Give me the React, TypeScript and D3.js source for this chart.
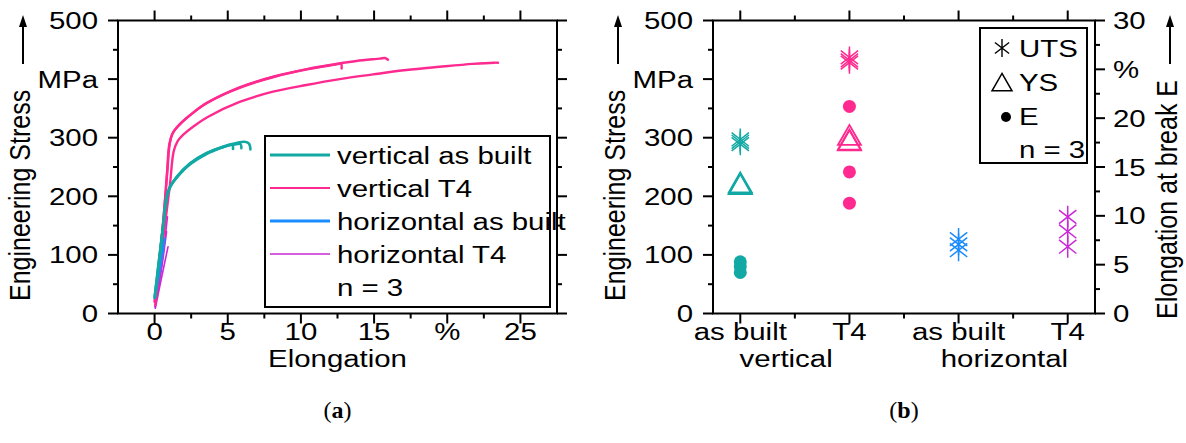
import React from "react";
import * as d3 from "d3";

// ---------- (a) tensile curves: [elongation in %, engineering stress in MPa] ----------
const verticalAsBuiltCurves: [number, number][][] = [
  [[0, 28], [0.3, 90], [0.57, 148], [0.8, 197], [1.0, 214], [1.5, 233], [2.4, 256], [3.5, 273], [4.7, 285], [5.6, 291], [6.15, 293], [6.45, 290], [6.55, 280]],
  [[0.02, 30], [0.32, 95], [0.6, 152], [0.85, 200], [1.05, 215], [1.6, 235], [2.5, 257], [3.6, 274], [4.8, 285], [5.6, 289], [5.88, 289], [5.93, 282]],
  [[0.04, 27], [0.33, 92], [0.6, 150], [0.83, 198], [1.1, 218], [1.55, 233], [2.45, 255], [3.55, 272], [4.6, 283], [5.2, 288], [5.33, 288], [5.36, 281]],
];
const verticalT4Curves: [number, number][][] = [
  [[0.0, 20], [0.3, 85], [0.6, 160], [0.85, 240], [1.0, 288], [1.2, 306], [1.6, 320], [2.5, 340], [3.5, 358], [5.8, 386], [8.1, 404], [10.4, 417], [12.7, 427], [13.8, 431], [15.4, 435], [15.75, 436], [15.95, 433]],
  [[0.02, 22], [0.32, 88], [0.62, 165], [0.88, 245], [1.04, 290], [1.25, 308], [1.7, 322], [2.6, 342], [3.6, 360], [5.9, 386], [8.2, 404], [10.5, 417], [12.6, 426], [12.75, 427], [12.78, 418]],
  [[0.05, 15], [0.35, 80], [0.7, 150], [1.05, 220], [1.3, 276], [1.55, 293], [2.0, 306], [2.7, 320], [3.6, 335], [5.81, 361], [8.09, 378.5], [10.37, 390], [12.65, 400], [14.92, 408], [17.2, 415.5], [19.48, 421], [21.76, 426], [23.2, 428], [23.47, 428]],
];
const horizontalAsBuiltCurves: [number, number][][] = [
  [[0, 26], [0.35, 78], [0.68, 128]],
  [[0.03, 30], [0.35, 76], [0.62, 118]],
  [[0.02, 28], [0.3, 68], [0.56, 108]],
];
const horizontalT4Curves: [number, number][][] = [
  [[0.05, 9], [0.5, 64], [0.92, 114]],
  [[0.03, 12], [0.45, 72], [0.82, 140]],
  [[0.04, 11], [0.5, 85], [0.88, 165]],
];
const legendLabelsA = ["vertical as built", "vertical T4", "horizontal as built", "horizontal T4"];

// ---------- (b) strength and elongation per condition ----------
const categoryLabels = ["as built", "T4", "as built", "T4"];
const groupLabels = ["vertical", "horizontal"];
const utsValues = [[297, 293, 289], [437, 432, 428], [127, 118, 108], [165, 140, 114]]; // MPa
const ysValues = [[218, 216, 215], [299, 291, 290], [], []]; // MPa
const elongationValues = [[5.3, 4.8, 4.2], [21.2, 14.5, 11.3], [], []]; // %

// axis tick labels
const stressTickLabels = ["0", "100", "200", "300", "MPa", "500"];
const elongTickLabelsA = ["0", "5", "10", "15", "%", "25"];
const elongTickLabelsB = ["0", "5", "10", "15", "20", "%", "30"];

const TEAL = "#12a9a4";
const PINK = "#ff2a8f";
const BLUE = "#1a8cff";
const PURPLE = "#c92ad6";
const seriesColors = [TEAL, PINK, BLUE, PURPLE];
const seriesWidths = [3, 2, 3, 1.6];

const FONT = "'Liberation Sans', Arial, sans-serif";
const SX = 1.2;
const FS = 24.5;

function Label(props: {
  x: number; y: number; anchor?: string; size?: number; rot?: boolean; children: React.ReactNode;
}) {
  const { x, y, anchor = "middle", size = FS, rot = false, children } = props;
  const tf = `translate(${x},${y}) scale(${SX},1)` + (rot ? " rotate(-90)" : "");
  return (
    <text transform={tf} textAnchor={anchor} fontSize={size} fontFamily={FONT} fill="#000">
      {children}
    </text>
  );
}

// scales
const xA = d3.scaleLinear().domain([-2.5, 27.5]).range([118, 557]);
const yA = d3.scaleLinear().domain([0, 500]).range([313.5, 20.5]);
const xB = d3.scaleLinear().domain([0.75, 4.25]).range([713, 1095]);
const yB = d3.scaleLinear().domain([0, 500]).range([313.5, 20.5]);
const yBr = d3.scaleLinear().domain([0, 30]).range([313.5, 20.5]);

const MAJ = 10;
const MIN = 5;
const TICK_LABEL_DY = 26;
const TITLE_DY = 53;

function Frame({ x0, x1, y0, y1 }: { x0: number; x1: number; y0: number; y1: number }) {
  return <rect x={x0} y={y1} width={x1 - x0} height={y0 - y1} fill="none" stroke="#000" strokeWidth={2} />;
}

function Star({ cx, cy, color, r = 11, w = 1.5 }: { cx: number; cy: number; color: string; r?: number; w?: number }) {
  const a = (38 * Math.PI) / 180;
  const dx = r * Math.cos(a);
  const dy = r * Math.sin(a);
  const d = `M${cx},${cy - r}L${cx},${cy + r}M${cx - dx},${cy - dy}L${cx + dx},${cy + dy}M${cx - dx},${cy + dy}L${cx + dx},${cy - dy}`;
  return <path d={d} stroke={color} strokeWidth={w} fill="none" />;
}

function Tri({ cx, cy, color, s = 23, w = 1.8 }: { cx: number; cy: number; color: string; s?: number; w?: number }) {
  const h = s * 0.87;
  const d = `M${cx},${cy - (2 * h) / 3}L${cx + s / 2},${cy + h / 3}L${cx - s / 2},${cy + h / 3}Z`;
  return <path d={d} stroke={color} strokeWidth={w} fill="none" />;
}

function Arrow({ x, yTop, yBottom }: { x: number; yTop: number; yBottom: number }) {
  return (
    <g>
      <line x1={x} x2={x} y1={yBottom} y2={yTop + 8} stroke="#000" strokeWidth={2} />
      <path d={`M${x},${yTop}L${x - 4},${yTop + 12}L${x + 4},${yTop + 12}Z`} fill="#000" />
    </g>
  );
}

function PanelA() {
  const line = d3
    .line<[number, number]>()
    .x((d) => xA(d[0]))
    .y((d) => yA(d[1]))
    .curve(d3.curveCatmullRom.alpha(0.5));
  const [x0, x1] = xA.range();
  const [y0, y1] = yA.range();
  const xMajor = d3.range(0, 26, 5);
  const xMinor = d3.range(-2.5, 27.6, 5);
  const yMajor = d3.range(0, 501, 100);
  const yMinor = d3.range(50, 500, 100);
  const groups = [horizontalT4Curves, verticalT4Curves, horizontalAsBuiltCurves, verticalAsBuiltCurves];
  const groupColor = [PURPLE, PINK, BLUE, TEAL];
  const groupWidth = [1.6, 2.4, 2.2, 2.6];
  const legendY = [155, 188, 221, 254];
  return (
    <g>
      {groups.map((g, gi) =>
        g.map((c, ci) => (
          <path key={`${gi}-${ci}`} d={line(c) || ""} fill="none" stroke={groupColor[gi]} strokeWidth={groupWidth[gi]} strokeLinejoin="round" strokeLinecap="round" />
        ))
      )}
      {xMajor.map((v) => (
        <g key={`xm${v}`}>
          <line x1={xA(v)} x2={xA(v)} y1={y0} y2={y0 + MAJ} stroke="#000" strokeWidth={2} />
          <line x1={xA(v)} x2={xA(v)} y1={y1} y2={y1 - MAJ} stroke="#000" strokeWidth={2} />
        </g>
      ))}
      {xMinor.filter((v) => v > -2.5 && v < 27.5).map((v) => (
        <g key={`xn${v}`}>
          <line x1={xA(v)} x2={xA(v)} y1={y0} y2={y0 + MIN} stroke="#000" strokeWidth={2} />
          <line x1={xA(v)} x2={xA(v)} y1={y1} y2={y1 - MIN} stroke="#000" strokeWidth={2} />
        </g>
      ))}
      {yMajor.map((v) => (
        <g key={`ym${v}`}>
          <line x1={x0} x2={x0 - MAJ} y1={yA(v)} y2={yA(v)} stroke="#000" strokeWidth={2} />
          <line x1={x1} x2={x1 + MAJ} y1={yA(v)} y2={yA(v)} stroke="#000" strokeWidth={2} />
        </g>
      ))}
      {yMinor.map((v) => (
        <g key={`yn${v}`}>
          <line x1={x0} x2={x0 - MIN} y1={yA(v)} y2={yA(v)} stroke="#000" strokeWidth={2} />
          <line x1={x1} x2={x1 + MIN} y1={yA(v)} y2={yA(v)} stroke="#000" strokeWidth={2} />
        </g>
      ))}
      <Frame x0={x0} x1={x1} y0={y0} y1={y1} />
      {yMajor.map((v, i) => (
        <Label key={`yl${v}`} x={x0 - 20} y={yA(v) + 8.5} anchor="end">{stressTickLabels[i]}</Label>
      ))}
      {xMajor.map((v, i) => (
        <Label key={`xl${v}`} x={xA(v)} y={y0 + TICK_LABEL_DY}>{elongTickLabelsA[i]}</Label>
      ))}
      <Label x={(x0 + x1) / 2} y={y0 + TITLE_DY}>Elongation</Label>
      <Label x={30} y={301} anchor="start" size={25} rot>Engineering Stress</Label>
      <Arrow x={23} yTop={15} yBottom={64} />
      {/* legend */}
      <rect x={265} y={136} width={285} height={171} fill="#fff" stroke="#000" strokeWidth={2} />
      {legendLabelsA.map((t, i) => (
        <g key={t}>
          <line x1={270} x2={330} y1={legendY[i]} y2={legendY[i]} stroke={seriesColors[i]} strokeWidth={seriesWidths[i]} />
          <Label x={337} y={legendY[i] + 8.5} anchor="start">{t}</Label>
        </g>
      ))}
      <Label x={337} y={296} anchor="start">n = 3</Label>
      <text x={xA(12.5)} y={418} textAnchor="middle" fontSize={24} fontFamily="'Liberation Serif', 'Times New Roman', serif">
        (<tspan fontWeight="bold">a</tspan>)
      </text>
    </g>
  );
}

function PanelB() {
  const [x0, x1] = xB.range();
  const [y0, y1] = yB.range();
  const cats = [1, 2, 3, 4];
  const catMinor = [1.5, 2.5, 3.5];
  const yMajor = d3.range(0, 501, 100);
  const yMinor = d3.range(50, 500, 100);
  const rMajor = d3.range(0, 31, 5);
  const rMinor = d3.range(2.5, 30, 5);
  return (
    <g>
      {cats.map((c) => (
        <g key={`cm${c}`}>
          <line x1={xB(c)} x2={xB(c)} y1={y0} y2={y0 + MAJ} stroke="#000" strokeWidth={2} />
          <line x1={xB(c)} x2={xB(c)} y1={y1} y2={y1 - MAJ} stroke="#000" strokeWidth={2} />
        </g>
      ))}
      {catMinor.map((c) => (
        <g key={`cn${c}`}>
          <line x1={xB(c)} x2={xB(c)} y1={y0} y2={y0 + MIN} stroke="#000" strokeWidth={2} />
          <line x1={xB(c)} x2={xB(c)} y1={y1} y2={y1 - MIN} stroke="#000" strokeWidth={2} />
        </g>
      ))}
      {yMajor.map((v) => (
        <line key={`bym${v}`} x1={x0} x2={x0 - MAJ} y1={yB(v)} y2={yB(v)} stroke="#000" strokeWidth={2} />
      ))}
      {yMinor.map((v) => (
        <line key={`byn${v}`} x1={x0} x2={x0 - MIN} y1={yB(v)} y2={yB(v)} stroke="#000" strokeWidth={2} />
      ))}
      {rMajor.map((v) => (
        <line key={`brm${v}`} x1={x1} x2={x1 + MAJ} y1={yBr(v)} y2={yBr(v)} stroke="#000" strokeWidth={2} />
      ))}
      {rMinor.map((v) => (
        <line key={`brn${v}`} x1={x1} x2={x1 + MIN} y1={yBr(v)} y2={yBr(v)} stroke="#000" strokeWidth={2} />
      ))}
      <Frame x0={x0} x1={x1} y0={y0} y1={y1} />
      {yMajor.map((v, i) => (
        <Label key={`byl${v}`} x={x0 - 20} y={yB(v) + 8.5} anchor="end">{stressTickLabels[i]}</Label>
      ))}
      {rMajor.map((v, i) => (
        <Label key={`brl${v}`} x={x1 + 18} y={yBr(v) + 8.5} anchor="start">{elongTickLabelsB[i]}</Label>
      ))}
      {cats.map((c, i) => (
        <Label key={`cl${c}`} x={xB(c)} y={y0 + TICK_LABEL_DY}>{categoryLabels[i]}</Label>
      ))}
      {groupLabels.map((g, i) => (
        <Label key={g} x={xB(1.42 + 2 * i)} y={y0 + TITLE_DY}>{g}</Label>
      ))}
      <Label x={625} y={301} anchor="start" size={25} rot>Engineering Stress</Label>
      <Arrow x={618} yTop={15} yBottom={64} />
      <Label x={1177} y={319} anchor="start" size={25} rot>Elongation at break E</Label>
      <Arrow x={1170} yTop={15} yBottom={64} />
      {/* markers */}
      {cats.map((c, i) => (
        <g key={`mk${c}`}>
          {elongationValues[i].map((v, k) => (
            <circle key={`e${k}`} cx={xB(c)} cy={yBr(v)} r={6.5} fill={seriesColors[i]} />
          ))}
          {ysValues[i].map((v, k) => (
            <Tri key={`y${k}`} cx={xB(c)} cy={yB(v)} color={seriesColors[i]} />
          ))}
          {utsValues[i].map((v, k) => (
            <Star key={`u${k}`} cx={xB(c)} cy={yB(v)} color={seriesColors[i]} />
          ))}
        </g>
      ))}
      {/* legend */}
      <rect x={980} y={28} width={107} height={135} fill="#fff" stroke="#000" strokeWidth={2} />
      <Star cx={1002} cy={48} color="#000" r={9} w={1.4} />
      <Label x={1019} y={56.5} anchor="start">UTS</Label>
      <Tri cx={1002} cy={85} color="#000" s={20} w={1.5} />
      <Label x={1019} y={90.5} anchor="start">YS</Label>
      <circle cx={1006} cy={117} r={5} fill="#000" />
      <Label x={1019} y={125} anchor="start">E</Label>
      <Label x={1019} y={158} anchor="start">n = 3</Label>
      <text x={xB(2.5)} y={418} textAnchor="middle" fontSize={24} fontFamily="'Liberation Serif', 'Times New Roman', serif">
        (<tspan fontWeight="bold">b</tspan>)
      </text>
    </g>
  );
}

export default function App() {
  return (
    <svg
      width={1186}
      height={443}
      viewBox="0 0 1186 443"
      style={{ position: "absolute", left: 0, top: 0, background: "#fff" }}
    >
      <rect width={1186} height={443} fill="#fff" />
      <PanelA />
      <PanelB />
    </svg>
  );
}
